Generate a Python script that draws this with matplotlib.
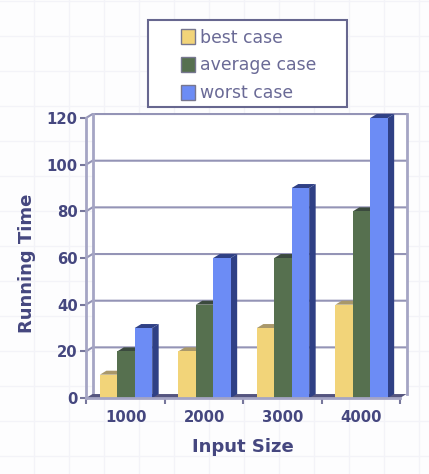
import numpy as np
import matplotlib
matplotlib.use("Agg")
import matplotlib.pyplot as plt
from matplotlib.patches import Polygon, Rectangle

plt.rcParams['font.family'] = ['DejaVu Sans']

sizes = ["1000", "2000", "3000", "4000"]
best_case = [10, 20, 30, 40]
average_case = [20, 40, 60, 80]
worst_case = [30, 60, 90, 120]
y_ticks = [0, 20, 40, 60, 80, 100, 120]

W, H = 429, 474
navy = "#45477f"
wall = "#a5a5c4"

fig = plt.figure(figsize=(W / 100, H / 100), dpi=100, facecolor="#fdfdfe")

# faint squares from the page behind the chart
for px in range(34, W, 35):
    fig.add_artist(plt.Line2D([px / W, px / W], [0, 1], color="#f3f3f8", lw=1, zorder=-5))
for py in range(18, H, 35):
    fig.add_artist(plt.Line2D([0, 1], [py / H, py / H], color="#f3f3f8", lw=1, zorder=-5))

ax = fig.add_axes([86 / W, (H - 398) / H, 314 / W, 280 / H])
ax.set_xlim(0, 4)
ax.set_ylim(0, 120)
ax.patch.set_alpha(0)

dx = 6.5 / 78.5  # depth of the 3d look, in data units
dy = 1.7

# back wall
ax.add_patch(Polygon([(dx, dy), (4 + dx, dy), (4 + dx, 120 + dy), (dx, 120 + dy)],
                     fc="white", ec="none", clip_on=False, zorder=0))
for v in y_ticks[1:]:
    ax.plot([0, dx, 4 + dx], [v, v + dy, v + dy], color="#9494b6", lw=1.5, clip_on=False, zorder=1)
ax.plot([dx, dx], [dy, 120 + dy], color=wall, lw=2, clip_on=False, zorder=1)
ax.plot([4 + dx, 4 + dx], [dy, 120 + dy], color=wall, lw=2, clip_on=False, zorder=1)
ax.add_patch(Polygon([(0, 0), (4, 0), (4 + dx, dy), (dx, dy)], fc="#55557f", ec="none",
                     clip_on=False, zorder=1))

x = np.arange(4) + 0.51
bar_w = 0.222
series = [
    ("best case", best_case, -bar_w, "#f2d479", "#a9986a", "#a39256"),
    ("average case", average_case, 0, "#56704f", "#3b4a3e", "#3b4a3e"),
    ("worst case", worst_case, bar_w, "#6c8cf5", "#2f4085", "#2f4085"),
]
handles = []
for label, vals, off, col, top, side in series:
    bars = ax.bar(x + off, vals, bar_w, color=col, clip_on=False, zorder=3, label=label)
    handles.append(bars)
    for xi, v in zip(x + off, vals):
        x0, x1 = xi - bar_w / 2, xi + bar_w / 2
        ax.add_patch(Polygon([(x0, v), (x1, v), (x1 + dx, v + dy), (x0 + dx, v + dy)],
                             fc=top, ec="none", clip_on=False, zorder=2))
        ax.add_patch(Polygon([(x1, 0), (x1 + dx, dy), (x1 + dx, v + dy), (x1, v)],
                             fc=side, ec="none", clip_on=False, zorder=2))

for s in ["top", "right"]:
    ax.spines[s].set_visible(False)
for s in ["left", "bottom"]:
    ax.spines[s].set_color(wall)
    ax.spines[s].set_linewidth(2)
    ax.spines[s].set_zorder(4)

ax.set_yticks(y_ticks)
ax.set_xticks(range(5))
ax.set_xticklabels([])
ax.set_xticks(x, minor=True)
ax.set_xticklabels(sizes, minor=True)
ax.tick_params(axis="x", which="minor", length=0, pad=9, labelsize=10.7, labelcolor=navy)
ax.tick_params(axis="x", which="major", length=4, width=1.5, color="#77779c")
ax.tick_params(axis="y", length=4, width=1.5, color="#77779c", pad=2, labelsize=10.7, labelcolor=navy)
for t in ax.get_xticklabels(minor=True) + ax.get_yticklabels():
    t.set_fontweight("bold")

fig.text(243 / W, 1 - 447 / H, "Input Size", color=navy, fontsize=13, fontweight="bold",
         ha="center", va="center")
fig.text(27 / W, 1 - 263 / H, "Running Time", color=navy, fontsize=13, fontweight="bold",
         rotation=90, ha="center", va="center")

fig.add_artist(Rectangle((148 / W, 1 - 107 / H), 199 / W, 87 / H, fc="white", ec="#67678f", lw=1.5,
                         transform=fig.transFigure, zorder=5))
leg = fig.legend(handles=handles, loc="upper left", bbox_to_anchor=(167 / W, 1 - 15 / H),
                 frameon=False, fontsize=12.4, handlelength=0.82, handleheight=0.95,
                 handletextpad=0.32, labelspacing=0.56, labelcolor="#6a6a96", borderpad=0.3)
leg.set_zorder(6)
for h in leg.legend_handles:
    h.set_edgecolor("#77778f")
    h.set_linewidth(1)

fig.savefig("out.png", dpi=100, facecolor=fig.get_facecolor())
